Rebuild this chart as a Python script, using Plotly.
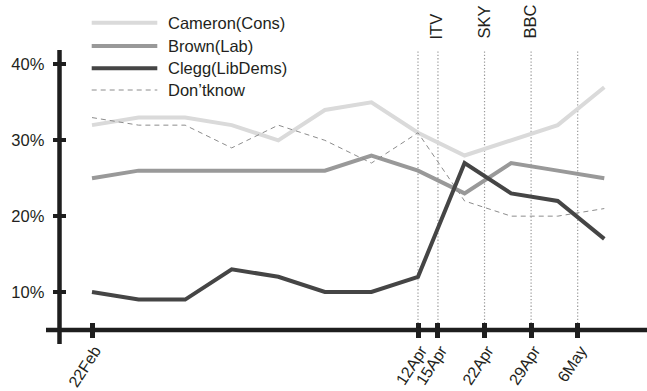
import plotly.graph_objects as go

# ---- data ----
dates = ["2010-02-22", "2010-03-01", "2010-03-08", "2010-03-15", "2010-03-22", "2010-03-29",
         "2010-04-05", "2010-04-12", "2010-04-19", "2010-04-26", "2010-05-03", "2010-05-10"]
cameron = [32, 33, 33, 32, 30, 34, 35, 31, 28, 30, 32, 37]
brown = [25, 26, 26, 26, 26, 26, 28, 26, 23, 27, 26, 25]
clegg = [10, 9, 9, 13, 12, 10, 10, 12, 27, 23, 22, 17]
dontknow = [33, 32, 32, 29, 32, 30, 27, 31, 22, 20, 20, 21]

series_names = ["Cameron(Cons)", "Brown(Lab)", "Clegg(LibDems)", "Don\u2019tknow"]

x_tick_dates = ["2010-02-22", "2010-04-12", "2010-04-15", "2010-04-22", "2010-04-29", "2010-05-06"]
x_tick_labels = ["22Feb", "12Apr", "15Apr", "22Apr", "29Apr", "6May"]
y_tick_vals = [10, 20, 30, 40]
y_tick_labels = ["10%", "20%", "30%", "40%"]

event_dates = ["2010-04-12", "2010-04-15", "2010-04-22", "2010-04-29", "2010-05-06"]
debate_dates = ["2010-04-15", "2010-04-22", "2010-04-29"]
debate_labels = ["ITV", "SKY", "BBC"]

# ---- styles ----
FONT = "Liberation Sans, Arial, Helvetica, sans-serif"
TXT = "#231f20"
AX = "#1e1e1e"
styles = {
    "Cameron(Cons)": dict(color="#dadada", width=4),
    "Brown(Lab)": dict(color="#999999", width=4),
    "Clegg(LibDems)": dict(color="#454545", width=4),
    "Don\u2019tknow": dict(color="#8c8c8c", width=1, dash="5px,4px"),
}
values = {
    "Cameron(Cons)": cameron,
    "Brown(Lab)": brown,
    "Clegg(LibDems)": clegg,
    "Don\u2019tknow": dontknow,
}

fig = go.Figure()
for name in ["Cameron(Cons)", "Brown(Lab)", "Don\u2019tknow", "Clegg(LibDems)"]:
    fig.add_trace(go.Scatter(x=dates, y=values[name], mode="lines", name=name,
                             line=styles[name], showlegend=False, hoverinfo="skip"))

W, H = 647, 391
L, R, T, B = 46, 0, 50, 47
pw, ph = W - L - R, H - T - B

def px_x(px):
    return (px - L) / pw

def px_y(py):
    return (H - B - py) / ph

shapes = []
# axis lines
shapes.append(dict(type="line", xref="paper", yref="paper", x0=0, x1=1,
                   y0=px_y(330), y1=px_y(330), line=dict(color=AX, width=4.5)))
shapes.append(dict(type="line", xref="paper", yref="paper", x0=px_x(59.5), x1=px_x(59.5),
                   y0=0, y1=1, line=dict(color=AX, width=4.5)))
# event dotted lines
for d in event_dates:
    shapes.append(dict(type="line", xref="x", yref="paper", x0=d, x1=d,
                       y0=px_y(330), y1=px_y(51.5), layer="below",
                       line=dict(color="#9a9a9a", width=1.2, dash="1.3px,2px")))

annotations = []
# manual legend
leg_y = [22.7, 46, 68.3, 90]
for name, ly in zip(series_names, leg_y):
    st = styles[name]
    shapes.append(dict(type="line", xref="paper", yref="paper", x0=px_x(91.7), x1=px_x(157.3),
                       y0=px_y(ly), y1=px_y(ly), line=st))
    annotations.append(dict(text=name, xref="paper", yref="paper", x=px_x(166), y=px_y(ly),
                            xanchor="left", yanchor="middle", showarrow=False,
                            font=dict(family=FONT, size=16.5, color=TXT)))
# debate labels
for d, lab in zip(debate_dates, debate_labels):
    annotations.append(dict(text=lab, xref="x", yref="paper", x=d, y=px_y(41),
                            xanchor="center", yanchor="bottom", textangle=-90, xshift=-1.5,
                            showarrow=False, font=dict(family=FONT, size=16.5, color=TXT)))

fig.update_layout(
    template="none",
    width=W, height=H,
    margin=dict(l=L, r=R, t=T, b=B, pad=0, autoexpand=False),
    paper_bgcolor="white", plot_bgcolor="rgba(0,0,0,0)",
    font=dict(family=FONT, size=16.5, color=TXT),
    showlegend=False,
    xaxis=dict(type="date", range=["2010-02-15 02:04", "2010-05-16 10:05"], automargin=False,
               anchor="free", position=px_y(322), showline=False, showgrid=False,
               zeroline=False, ticks="outside", ticklen=15, tickwidth=4.5, tickcolor=AX,
               tickvals=x_tick_dates, ticktext=x_tick_labels, tickangle=-57,
               ticklabelstandoff=-3, ticklabelshift=3,
               tickfont=dict(family=FONT, size=16, color=TXT)),
    yaxis=dict(range=[3.14, 41.91], anchor="free", position=px_x(66), showline=False,
               automargin=False,
               showgrid=False, zeroline=False, ticks="outside", ticklen=13.3, tickwidth=4,
               tickcolor=AX, tickvals=y_tick_vals, ticktext=y_tick_labels,
               ticklabelstandoff=5,
               tickfont=dict(family=FONT, size=16.5, color=TXT)),
    shapes=shapes,
    annotations=annotations,
)

fig.write_html("out.html", config={"displayModeBar": False},
               post_script="document.body.style.margin='0';document.body.style.padding='0';"
                           "document.body.style.overflow='hidden';")
